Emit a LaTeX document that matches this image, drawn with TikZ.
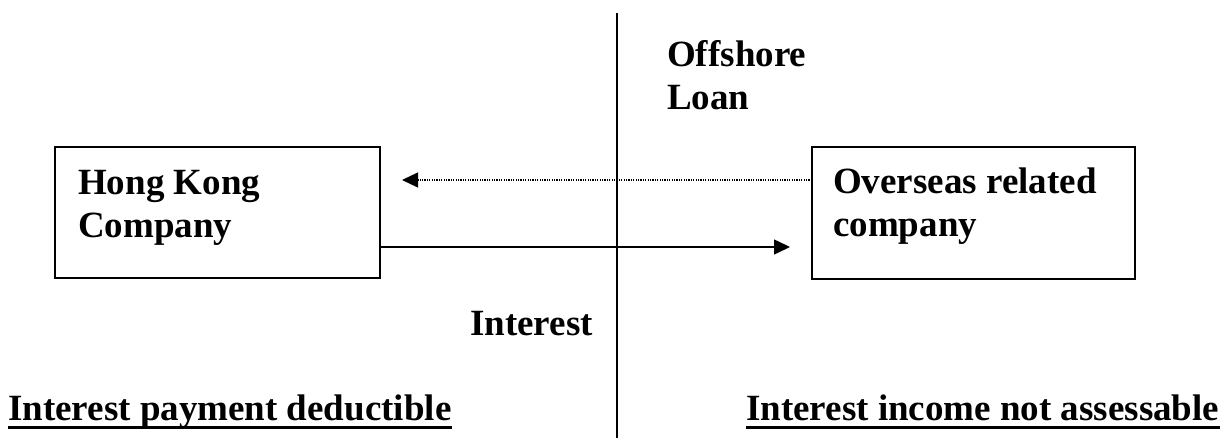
\documentclass[tikz,border=0pt]{standalone}
\usepackage{fontspec}
\setmainfont{Liberation Serif}
\usetikzlibrary{arrows.meta}
\newcommand{\mytwolines}[2]{\vtop{\hbox{#1}\hbox{#2}}}
\begin{document}
\begin{tikzpicture}[x=1pt,y=-1pt,
  lbl/.style={anchor=base west,inner sep=0pt,font=\fontsize{37}{42.5}\selectfont\bfseries},
  boxshape/.style={draw,line width=2pt},
  flow/.style={line width=1.5pt,-{Triangle[length=16pt,width=15pt]}},
  dotflow/.style={line width=1.2pt,dash pattern=on 1.2pt off 1.2pt,-{Triangle[length=16pt,width=15pt,sep=0pt]}},
  uline/.style={line width=3pt}]
\useasboundingbox (0,0) rectangle (1225,438);
% divider
\coordinate (vtop) at (617,13);
\coordinate (vbot) at (617,438);
\draw[line width=2pt] (vtop) -- (vbot);
% boxes
\draw[boxshape] (55,147) rectangle (380,278);
\draw[boxshape] (812,147) rectangle (1135,279);
\coordinate (hkR) at (380,247);
\coordinate (hkArrTip) at (402,180);
\coordinate (ovL) at (812,180);
\coordinate (ovArrTip) at (790,247);
% texts
\node[lbl] (off) at (667,67) {\mytwolines{Offshore}{Loan}};
\node[lbl] (hk) at (78,195) {\mytwolines{Hong Kong}{Company}};
\node[lbl] (ov) at (833,194) {\mytwolines{Overseas related}{company}};
\node[lbl] (int) at (470,335) {Interest};
\node[lbl] (bl) at (8,420) {Interest payment deductible};
\node[lbl] (br) at (746,420) {Interest income not assessable};
\draw[uline] ([yshift=-7pt]bl.base west) -- ([yshift=-7pt]bl.base east);
\draw[uline] ([yshift=-7pt]br.base west) -- ([yshift=-7pt]br.base east);
% arrows
\draw[dotflow] (ovL) -- (hkArrTip);
\draw[flow] (hkR) -- (ovArrTip);
\end{tikzpicture}
\end{document}
